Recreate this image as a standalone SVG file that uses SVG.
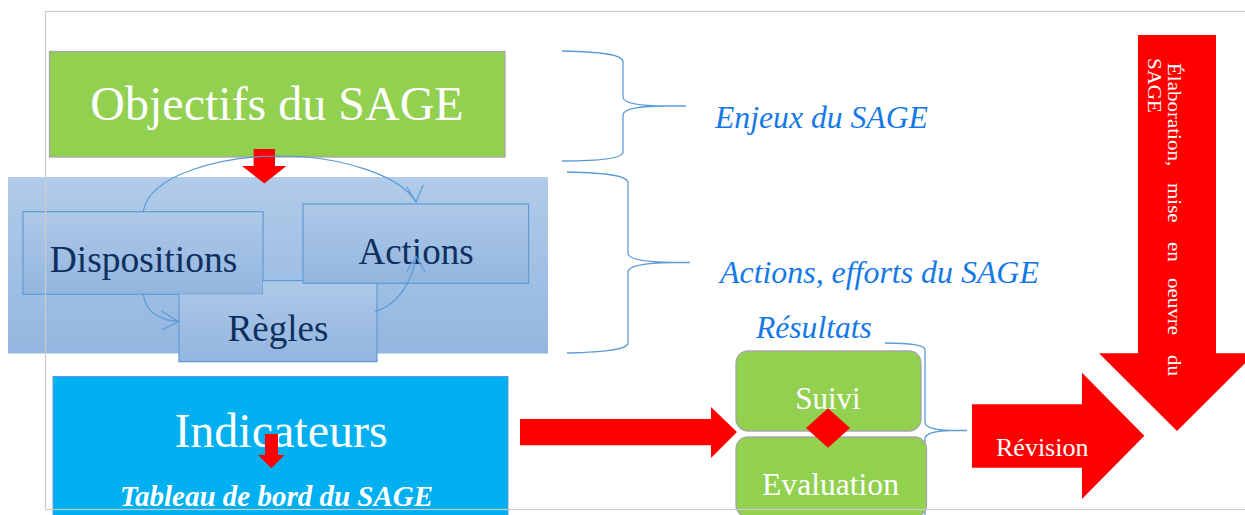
<svg xmlns="http://www.w3.org/2000/svg" width="1245" height="515" viewBox="0 0 1245 515">
<defs>
<linearGradient id="gPanel" x1="0" y1="0" x2="0" y2="1"><stop offset="0" stop-color="#b1cbe9"/><stop offset="1" stop-color="#93b6e0"/></linearGradient>
<linearGradient id="gBox" x1="0" y1="0" x2="0" y2="1"><stop offset="0" stop-color="#afc9e8"/><stop offset="1" stop-color="#92b5df"/></linearGradient>
<style>
.serif{font-family:"Liberation Serif","Times New Roman",serif}
.wt{fill:#ffffff}
.nav{fill:#0f2f5e}
.blu{fill:#1479e6;font-style:italic}
.box{fill:url(#gBox);stroke:#5f9bd6;stroke-width:1.2}
.red{fill:#ff0000}
.brace{fill:none;stroke:#5b9bd5;stroke-width:1.3}
.arc{fill:none;stroke:#5b9bd5;stroke-width:1.2}
.green{fill:#92d050;stroke:#a6a6a6;stroke-width:1.3}
</style>
</defs>

<rect id="panel" x="8" y="177" width="540" height="176.5" fill="url(#gPanel)"/>

<g id="objectifs">
<rect x="49.5" y="51.5" width="455.5" height="105.5" class="green"/>
<text x="277" y="120" class="serif wt" font-size="48" text-anchor="middle">Objectifs du SAGE</text>
</g>

<g id="arrow-objectifs" class="red">
<path d="M253.6,149 H275 V166 H286.4 L264.3,183.5 L242,166 H253.6 Z"/>
</g>

<g id="dispositions">
<rect x="23" y="211.7" width="240" height="82.6" class="box"/>
<text x="143.5" y="272" class="serif nav" font-size="37.5" text-anchor="middle">Dispositions</text>
</g>

<g id="regles">
<path d="M179,294.3 H263 V280.7 H377 V361.7 H179 Z" fill="url(#gBox)"/>
<path d="M263,280.7 H377 V361.7 H179 V294.3" fill="none" stroke="#5f9bd6" stroke-width="1.2"/>
<text x="278" y="341" class="serif nav" font-size="37" text-anchor="middle">Règles</text>
</g>

<g id="actions">
<rect x="303" y="204" width="225.6" height="79.3" class="box"/>
<text x="416" y="264" class="serif nav" font-size="37" text-anchor="middle">Actions</text>
</g>

<g id="connectors">
<path class="arc" d="M143.3,211 C150,175 220,156 280,156 C340,156 400,175 416,202"/>
<path class="arc" d="M406.7,186.7 L416,202 L423.3,185"/>
<path class="arc" d="M143.3,294.3 C145,312 160,320 178.3,321.7"/>
<path class="arc" d="M161.7,311 L178.3,321.7 L161.7,330"/>
<path class="arc" d="M375,311.7 C395,306 412,285 416,256.7"/>
<path class="arc" d="M406.7,271.7 L416,256.7 L425,271.7"/>
<path class="red" d="M520,419 H711 V407 L737,432 L711,458 V445.3 H520 Z"/>
</g>

<g id="braces">
<path class="brace" d="M562,51 C605,52 623,55 623,62 V97 C623,103 640,106 667,106 H686 M667,106 C640,106 623,109 623,115 V152 C623,158 605,161 562,161"/>
<path class="brace" d="M567,172 C610,173 628,176 628,183 V253 C628,259 645,262 672,262.5 H690 M672,262.5 C645,263 628,266 628,272 V343 C628,349 610,352 567,353"/>
<path class="brace" d="M885,343 C912,343 925,345 925,350 V422 C925,428 935,430 950,430.5 H967 M950,430.5 C935,431 925,433 925,439 V520"/>
</g>

<g id="labels" class="serif blu">
<text x="715" y="128" font-size="31.7">Enjeux du SAGE</text>
<text x="720" y="283" font-size="31.9">Actions, efforts du SAGE</text>
<text x="756" y="338" font-size="31.6">Résultats</text>
</g>

<g id="indicateurs">
<rect x="53" y="376.5" width="455" height="145" fill="#00b0f0" stroke="#5f9bd6" stroke-width="1"/>
<text x="281" y="447" class="serif wt" font-size="48" text-anchor="middle">Indicateurs</text>
<path class="red" d="M265,434 H278 V455 H284.6 L271.4,468.3 L258,455 H265 Z"/>
<text x="276.5" y="506" class="serif wt" font-size="29" font-weight="bold" font-style="italic" text-anchor="middle">Tableau de bord du SAGE</text>
</g>

<g id="suivi">
<rect x="736" y="351" width="185" height="80" rx="12" class="green"/>
<text x="828" y="409" class="serif wt" font-size="31" text-anchor="middle">Suivi</text>
</g>

<g id="evaluation">
<rect x="736" y="437" width="190.5" height="80" rx="12" class="green"/>
<text x="830.5" y="495" class="serif wt" font-size="31.6" text-anchor="middle">Evaluation</text>
</g>

<g id="diamond">
<path class="red" d="M806,428 L828,408.3 L850,428 L828,447.7 Z"/>
</g>

<g id="revision">
<path class="red" d="M972,404.3 H1082 V372.7 L1144.3,435.7 L1082,499 V467.7 H972 Z"/>
<text x="996" y="456" class="serif wt" font-size="26">Révision</text>
</g>

<g id="elaboration">
<path class="red" d="M1138,35 H1216 V353.3 H1255 L1177,431 L1099,353.3 H1138 Z"/>
<g transform="translate(1168,0) rotate(90) scale(1,0.88)" class="serif wt" font-size="21">
<text x="63" y="0">Élaboration,</text>
<text x="183" y="0">mise</text>
<text x="242" y="0">en</text>
<text x="278" y="0">oeuvre</text>
<text x="355" y="0">du</text>
<text x="58" y="23">SAGE</text>
</g>
</g>

<rect id="frame" x="45.5" y="11.5" width="1250" height="498" fill="none" stroke="#cccccc" stroke-width="1.2"/>
</svg>
